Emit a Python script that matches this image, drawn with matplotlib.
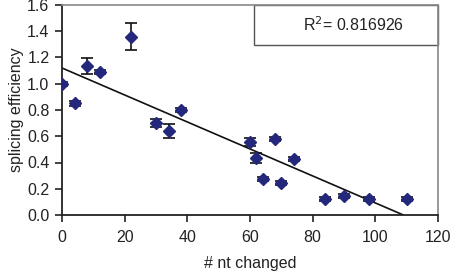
import matplotlib

matplotlib.use("Agg")
import matplotlib.pyplot as plt
import numpy as np

plt.rcParams["font.family"] = ["Liberation Sans", "DejaVu Sans"]

nt_changed = [0, 4, 8, 12, 22, 30, 34, 38, 60, 62, 64, 68, 70, 74, 84, 90, 98, 110]
efficiency = [1.00, 0.85, 1.135, 1.09, 1.36, 0.70, 0.64, 0.80, 0.555, 0.435, 0.275,
              0.58, 0.245, 0.425, 0.12, 0.145, 0.12, 0.12]
err = [0.015, 0.02, 0.06, 0.015, 0.10, 0.03, 0.05, 0.015, 0.03, 0.04, 0.015,
       0.015, 0.015, 0.015, 0.015, 0.015, 0.015, 0.015]
fit_intercept = 1.12
fit_slope = -0.01028
r_squared = "0.816926"

fig = plt.figure(figsize=(4.53, 2.75), dpi=100)
ax = fig.add_axes([62 / 453, 60 / 275, 376 / 453, 210 / 275])

ax.errorbar(nt_changed, efficiency, yerr=err, fmt="D", ms=6, color="#24287c",
            ecolor="#111111", elinewidth=1.2, capsize=4.5, capthick=1.2, zorder=3)

x_end = -fit_intercept / fit_slope
xs = np.array([0, x_end])
ax.plot(xs, fit_intercept + fit_slope * xs, color="#111111", lw=1.2, zorder=2)

ax.set_xlim(0, 120)
ax.set_ylim(0, 1.6)
ax.set_xticks(range(0, 121, 20))
ax.set_yticks(np.arange(0, 1.61, 0.2))
ax.set_yticklabels([f"{v:.1f}" for v in np.arange(0, 1.61, 0.2)])
ax.tick_params(direction="out", length=5, width=1.2, labelsize=11.5, colors="#222222",
               pad=4)
ax.tick_params(axis="x", pad=6)
for side in ("left", "bottom"):
    ax.spines[side].set_color("#222222")
    ax.spines[side].set_linewidth(1.3)
for side in ("top", "right"):
    ax.spines[side].set_color("#888888")
    ax.spines[side].set_linewidth(1.2)
ax.set_xlabel("# nt changed", fontsize=11.5, color="#222222", labelpad=8)
ax.set_ylabel("splicing efficiency", fontsize=11.5, color="#222222", labelpad=2)

ax.text(0.775, 0.905, f"R$^2$= {r_squared}", transform=ax.transAxes, ha="center",
        va="center", fontsize=11.5, color="#222222")
box = plt.Rectangle((0.51, 0.81), 0.49, 0.19, transform=ax.transAxes, fill=False,
                    ec="#555555", lw=1.0, clip_on=False)
ax.add_patch(box)

fig.savefig("out.png", dpi=100)
